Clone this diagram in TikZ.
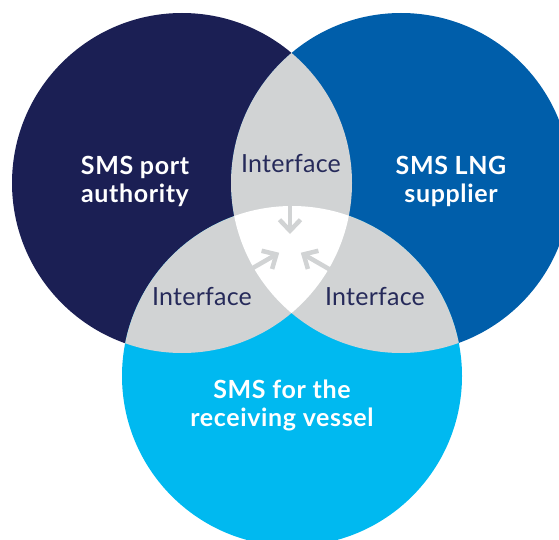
\documentclass[tikz,border=0pt]{standalone}
\usepackage{fontspec}
\setmainfont{Lato}
\newfontfamily\setfont[LetterSpace=2.5]{Lato}
\newfontfamily\ifacefont[LetterSpace=1]{Lato}
\usetikzlibrary{arrows.meta}
\definecolor{navy}{RGB}{27,31,84}
\definecolor{midblue}{RGB}{0,94,170}
\definecolor{skyblue}{RGB}{0,185,240}
\definecolor{lensgray}{RGB}{209,211,212}
\definecolor{ifacetext}{RGB}{38,42,90}
\tikzset{
  setlabel/.style={text=white, font=\setfont\fontsize{25}{28}\selectfont\bfseries, align=center, inner sep=0pt},
  ifacelabel/.style={text=ifacetext, font=\ifacefont\fontsize{25}{28}\selectfont, anchor=base, inner sep=0pt},
  convarrow/.style={draw=lensgray, line width=4.5pt, -{Straight Barb[length=11pt,width=21pt]}}
}
\begin{document}
\begin{tikzpicture}[x=1pt,y=-1pt]
\useasboundingbox (0,0) rectangle (559,540);
\coordinate (cL) at (182,183);
\coordinate (cR) at (401,183);
\coordinate (cB) at (292,376);
\def\rad{170pt}
% circles
\fill[navy] (cL) circle (\rad);
\fill[midblue] (cR) circle (\rad);
\fill[skyblue] (cB) circle (\rad);
% pairwise lenses
\begin{scope}
  \clip (cL) circle (\rad);
  \fill[lensgray] (cR) circle (\rad);
  \fill[lensgray] (cB) circle (\rad);
\end{scope}
\begin{scope}
  \clip (cR) circle (\rad);
  \fill[lensgray] (cB) circle (\rad);
\end{scope}
% triple intersection
\begin{scope}
  \clip (cL) circle (\rad);
  \clip (cR) circle (\rad);
  \fill[white] (cB) circle (\rad);
\end{scope}
% arrows
\coordinate (topTail) at (290,191.5);
\coordinate (topTip) at (290,234);
\coordinate (leftTail) at (242.4,274);
\coordinate (leftTip) at (279.2,252.75);
\coordinate (rightTail) at (337.6,274);
\coordinate (rightTip) at (300.8,252.75);
\draw[convarrow] (topTail) -- (topTip);
\draw[convarrow] (leftTail) -- (leftTip);
\draw[convarrow] (rightTail) -- (rightTip);
% labels
\node[setlabel] (port) at (135,181) {SMS port\\authority};
\node[setlabel] (lng) at (451,181) {SMS LNG\\supplier};
\node[setlabel] (vessel) at (282,405) {SMS for the\\receiving vessel};
\node[ifacelabel] (ifTop) at (291,173) {Interface};
\node[ifacelabel] (ifLeft) at (202,305) {Interface};
\node[ifacelabel] (ifRight) at (375,305) {Interface};
\end{tikzpicture}
\end{document}
